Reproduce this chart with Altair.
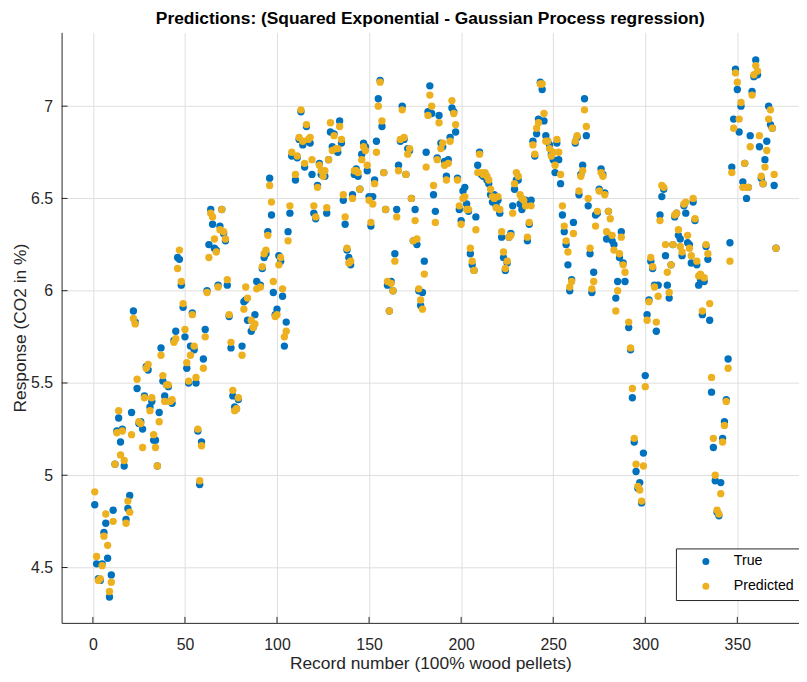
import altair as alt
import pandas as pd

# ---------------- data ----------------
REC = (list(range(1, 80)) + list(range(81, 85)) + list(range(86, 90))
       + list(range(91, 109)) + list(range(110, 290)) + list(range(291, 372)))

TRUE = [
    4.84, 4.52, 4.44, 4.43, 4.52, 4.69, 4.74, 4.55, 4.34, 4.46,
    4.81, 5.06, 5.24, 5.31, 5.18, 5.25, 5.05, 4.76, 4.82, 4.89,
    5.34, 5.89, 5.83, 5.47, 5.28, 5.29, 5.25, 5.43, 5.59, 5.57,
    5.37, 5.40, 5.19, 5.19, 5.05, 5.34, 5.69, 5.51, 5.43, 5.49,
    5.48, 5.40, 5.39, 5.73, 5.78, 6.18, 6.17, 6.03, 5.91, 5.75,
    5.58, 5.50, 5.70, 5.88, 5.68, 5.50, 5.24, 4.95, 5.18, 5.63,
    5.79, 6.00, 6.25, 6.44, 6.36, 6.23, 6.22, 6.03, 6.35, 6.44,
    6.31, 6.27, 6.03, 5.86, 5.69, 5.43, 5.37, 5.36, 5.41,
    5.70, 5.94, 5.95, 5.84,
    5.78, 5.80, 5.87, 6.05,
    6.03, 6.12, 6.18, 6.20, 6.32, 6.61, 6.41, 5.99, 5.87, 5.90,
    6.19, 6.16, 5.97, 5.70, 5.83, 6.32, 6.42, 6.73,
    6.60, 6.72, 6.82, 6.97, 6.79, 6.67, 6.89, 6.81, 6.80, 6.63,
    6.42, 6.39, 6.57, 6.69, 6.63, 6.64, 6.62, 6.42, 6.71, 6.86,
    6.78, 6.85, 6.76, 6.75, 6.92, 6.80, 6.49, 6.36, 6.22, 6.18,
    6.14, 6.52, 6.63, 6.66, 6.62, 6.55, 6.74, 6.80, 6.78, 6.65,
    6.51, 6.35, 6.51, 6.60, 6.81, 7.04, 7.14, 6.89, 6.64, 6.44,
    6.03, 5.89, 6.05, 6.00, 6.20, 6.44, 6.68, 6.81, 7.00, 6.82,
    6.63, 6.77, 6.76, 6.50, 6.27, 6.44, 6.25, 6.00, 5.92, 5.99,
    6.16, 6.75, 6.97, 7.11, 6.96, 6.52, 6.43, 6.72, 6.95, 6.80,
    6.78, 6.70, 6.62, 6.71, 6.83, 6.99, 6.97, 6.86, 6.61, 6.44,
    6.38, 6.54, 6.56, 6.47, 6.43, 6.20, 6.14, 6.11, 6.40, 6.68,
    6.75, 6.63, 6.62, 6.62, 6.60, 6.58, 6.52, 6.48, 6.52, 6.46,
    6.49, 6.42, 6.29, 6.18, 6.11, 6.15, 6.29, 6.31, 6.46, 6.55,
    6.60, 6.60, 6.47, 6.44, 6.47, 6.49, 6.27, 6.36, 6.49, 6.81,
    6.73, 6.85, 6.93, 7.13, 7.09, 6.92, 6.84, 6.81, 6.79, 6.74,
    6.71, 6.64, 6.80, 6.71, 6.58, 6.41, 6.32, 6.25, 6.14, 6.00,
    6.06, 6.37, 6.80, 6.83, 6.52, 6.63, 6.68, 7.04, 6.84, 6.46,
    6.20, 5.99, 6.10, 6.41, 6.42, 6.55, 6.66, 6.63, 6.53, 6.28,
    6.43, 6.30, 6.27, 6.25, 5.96, 6.05, 6.18, 6.32, 6.15, 6.05,
    5.80, 5.68, 5.42, 5.18, 5.02, 4.93, 4.96, 4.85, 5.12, 5.54,
    5.87, 5.95, 6.16, 6.12, 6.03, 5.78, 6.03, 6.41, 6.51, 6.55,
    6.19, 6.03, 5.96, 6.14, 6.25, 6.40, 6.42, 6.30, 6.28, 6.19,
    6.46, 6.42, 6.26, 6.25, 6.15, 6.48, 6.38, 6.14, 6.03, 6.06,
    5.87, 6.05, 6.24, 6.17, 5.84, 5.45, 5.15, 4.97, 4.80, 4.78,
    4.96, 5.20, 5.29, 5.41, 5.63, 6.26, 6.67, 6.93, 7.20, 7.09,
    6.86, 7.00, 6.59, 6.69, 6.50, 6.56, 6.84, 7.08, 7.16, 7.25,
    7.17, 6.78, 6.61, 6.58, 6.71, 6.81, 7.00, 6.90, 6.88, 6.57, 6.23,
]

PRED = [
    4.91, 4.56, 4.43, 4.44, 4.51, 4.67, 4.79, 4.62, 4.37, 4.42,
    4.75, 5.06, 5.23, 5.35, 5.11, 5.24, 5.08, 4.74, 4.86, 4.80,
    5.22, 5.85, 5.82, 5.52, 5.29, 5.28, 5.15, 5.42, 5.58, 5.60,
    5.35, 5.42, 5.22, 5.15, 5.05, 5.29, 5.65, 5.54, 5.40, 5.49,
    5.49, 5.40, 5.41, 5.72, 5.74, 6.12, 6.22, 6.05, 5.93, 5.79,
    5.61, 5.51, 5.65, 5.87, 5.70, 5.53, 5.25, 4.97, 5.16, 5.58,
    5.75, 5.99, 6.18, 6.42, 6.40, 6.28, 6.21, 6.02, 6.33, 6.44,
    6.32, 6.28, 6.06, 5.87, 5.72, 5.46, 5.35, 5.36, 5.42,
    5.65, 5.90, 6.02, 5.96,
    5.84, 5.80, 5.82, 6.01,
    6.02, 6.13, 6.20, 6.22, 6.30, 6.57, 6.48, 6.05, 5.86, 5.87,
    6.14, 6.18, 6.01, 5.75, 5.78, 6.27, 6.46, 6.75,
    6.63, 6.73, 6.83, 6.98, 6.81, 6.69, 6.90, 6.82, 6.83, 6.71,
    6.46, 6.40, 6.56, 6.68, 6.65, 6.62, 6.65, 6.45, 6.71, 6.91,
    6.76, 6.84, 6.77, 6.77, 6.89, 6.82, 6.52, 6.40, 6.23, 6.15,
    6.16, 6.50, 6.65, 6.65, 6.64, 6.55, 6.71, 6.78, 6.76, 6.68,
    6.49, 6.37, 6.47, 6.58, 6.75, 7.00, 7.13, 6.92, 6.64, 6.44,
    6.05, 5.89, 6.04, 6.00, 6.16, 6.40, 6.65, 6.82, 6.98, 6.83,
    6.63, 6.74, 6.77, 6.50, 6.27, 6.38, 6.28, 6.01, 5.95, 5.90,
    6.09, 6.67, 6.95, 7.06, 7.00, 6.57, 6.37, 6.71, 6.91, 6.77,
    6.80, 6.68, 6.60, 6.69, 6.81, 7.03, 6.96, 6.90, 6.60, 6.46,
    6.36, 6.50, 6.51, 6.44, 6.44, 6.23, 6.16, 6.11, 6.33, 6.64,
    6.74, 6.64, 6.63, 6.64, 6.62, 6.60, 6.55, 6.51, 6.50, 6.45,
    6.51, 6.44, 6.32, 6.21, 6.12, 6.16, 6.29, 6.30, 6.42, 6.58,
    6.64, 6.62, 6.52, 6.50, 6.49, 6.46, 6.29, 6.37, 6.46, 6.79,
    6.74, 6.88, 6.91, 7.12, 7.12, 6.96, 6.81, 6.81, 6.77, 6.73,
    6.75, 6.68, 6.82, 6.75, 6.63, 6.46, 6.35, 6.27, 6.21, 6.02,
    6.05, 6.31, 6.81, 6.84, 6.54, 6.62, 6.65, 6.98, 6.89, 6.50,
    6.23, 6.01, 6.05, 6.35, 6.43, 6.54, 6.64, 6.62, 6.52, 6.32,
    6.43, 6.39, 6.30, 6.22, 5.89, 6.00, 6.20, 6.29, 6.14, 6.10,
    5.83, 5.69, 5.47, 5.20, 5.06, 4.94, 4.92, 4.86, 5.05, 5.48,
    5.84, 5.94, 6.18, 6.13, 6.02, 5.83, 5.97, 6.38, 6.57, 6.56,
    6.25, 6.10, 5.99, 6.14, 6.25, 6.41, 6.42, 6.33, 6.24, 6.21,
    6.47, 6.48, 6.30, 6.23, 6.19, 6.50, 6.39, 6.16, 6.08, 6.09,
    5.89, 6.07, 6.25, 6.20, 5.93, 5.53, 5.20, 5.00, 4.81, 4.79,
    4.90, 5.18, 5.27, 5.40, 5.58, 6.16, 6.64, 6.88, 7.18, 7.13,
    6.93, 7.02, 6.56, 6.69, 6.56, 6.56, 6.78, 7.06, 7.17, 7.22,
    7.19, 6.84, 6.62, 6.58, 6.67, 6.76, 6.93, 6.98, 6.88, 6.63, 6.23,
]

SERIES = ["True", "Predicted"]
COLORS = ["#0072BD", "#EDB120"]
X_TICKS = [0, 50, 100, 150, 200, 250, 300, 350]
Y_TICKS = [4.5, 5, 5.5, 6, 6.5, 7]
X_DOMAIN = [-17, 383.5]
Y_DOMAIN = [4.2, 7.4]

assert len(REC) == len(TRUE) == len(PRED), (len(REC), len(TRUE), len(PRED))

df = pd.DataFrame(
    {"rec": REC + REC,
     "value": TRUE + PRED,
     "series": [SERIES[0]] * len(REC) + [SERIES[1]] * len(REC)}
)
xt = pd.DataFrame({"rec": X_TICKS})
yt = pd.DataFrame({"value": Y_TICKS})

W, H = 743, 595
FONT = "Liberation Sans"
AX = "#262626"
GRID = "#dfdfdf"

xscale = alt.Scale(domain=X_DOMAIN, nice=False, zero=False)
yscale = alt.Scale(domain=Y_DOMAIN, nice=False, zero=False)

xaxis = alt.Axis(values=X_TICKS, format="d", title="Record number (100% wood pellets)",
                 grid=True, gridColor=GRID, gridWidth=1, tickSize=0, labelPadding=14,
                 domainColor=AX, labelColor=AX, titleColor=AX, labelFont=FONT, titleFont=FONT,
                 labelFontSize=16, titleFontSize=17.5, titleFontWeight="normal", titlePadding=2)
yaxis = alt.Axis(values=Y_TICKS, format="~g", title="Response (CO2 in %)",
                 grid=True, gridColor=GRID, gridWidth=1, tickSize=0, labelPadding=9,
                 domainColor=AX, labelColor=AX, titleColor=AX, labelFont=FONT, titleFont=FONT,
                 labelFontSize=16, titleFontSize=17.5, titleFontWeight="normal", titlePadding=1)

points = alt.Chart(df).mark_circle(size=55, opacity=1).encode(
    x=alt.X("rec:Q", scale=xscale, axis=xaxis),
    y=alt.Y("value:Q", scale=yscale, axis=yaxis),
    color=alt.Color("series:N", sort=SERIES,
                    scale=alt.Scale(domain=SERIES, range=COLORS),
                    legend=alt.Legend(title=None, orient="none", legendX=619, legendY=520,
                                      fillColor="white", strokeColor=AX, padding=6,
                                      symbolType="circle", symbolSize=50, symbolOffset=17,
                                      labelOffset=21, rowPadding=10, labelFont=FONT,
                                      labelFontSize=14.3, labelColor="#000000")),
)

xticks = alt.Chart(xt).mark_rule(color=AX, strokeWidth=1).encode(
    x=alt.X("rec:Q", scale=xscale),
    y=alt.value(H), y2=alt.value(H - 6),
)
yticks = alt.Chart(yt).mark_rule(color=AX, strokeWidth=1).encode(
    y=alt.Y("value:Q", scale=yscale),
    x=alt.value(0), x2=alt.value(6),
)

chart = alt.layer(points, xticks, yticks).properties(
    width=W, height=H,
    background="white",
    title=alt.TitleParams("Predictions: (Squared Exponential - Gaussian Process regression)",
                          font=FONT, fontSize=17.5, fontWeight="bold", color="#000000",
                          anchor="middle", offset=5),
    autosize=alt.AutoSizeParams(type="none"),
    padding={"left": 54, "top": 22, "right": 0, "bottom": 50},
).configure_view(stroke=None)

chart.save("out.html", embed_options={"renderer": "svg", "actions": False})
